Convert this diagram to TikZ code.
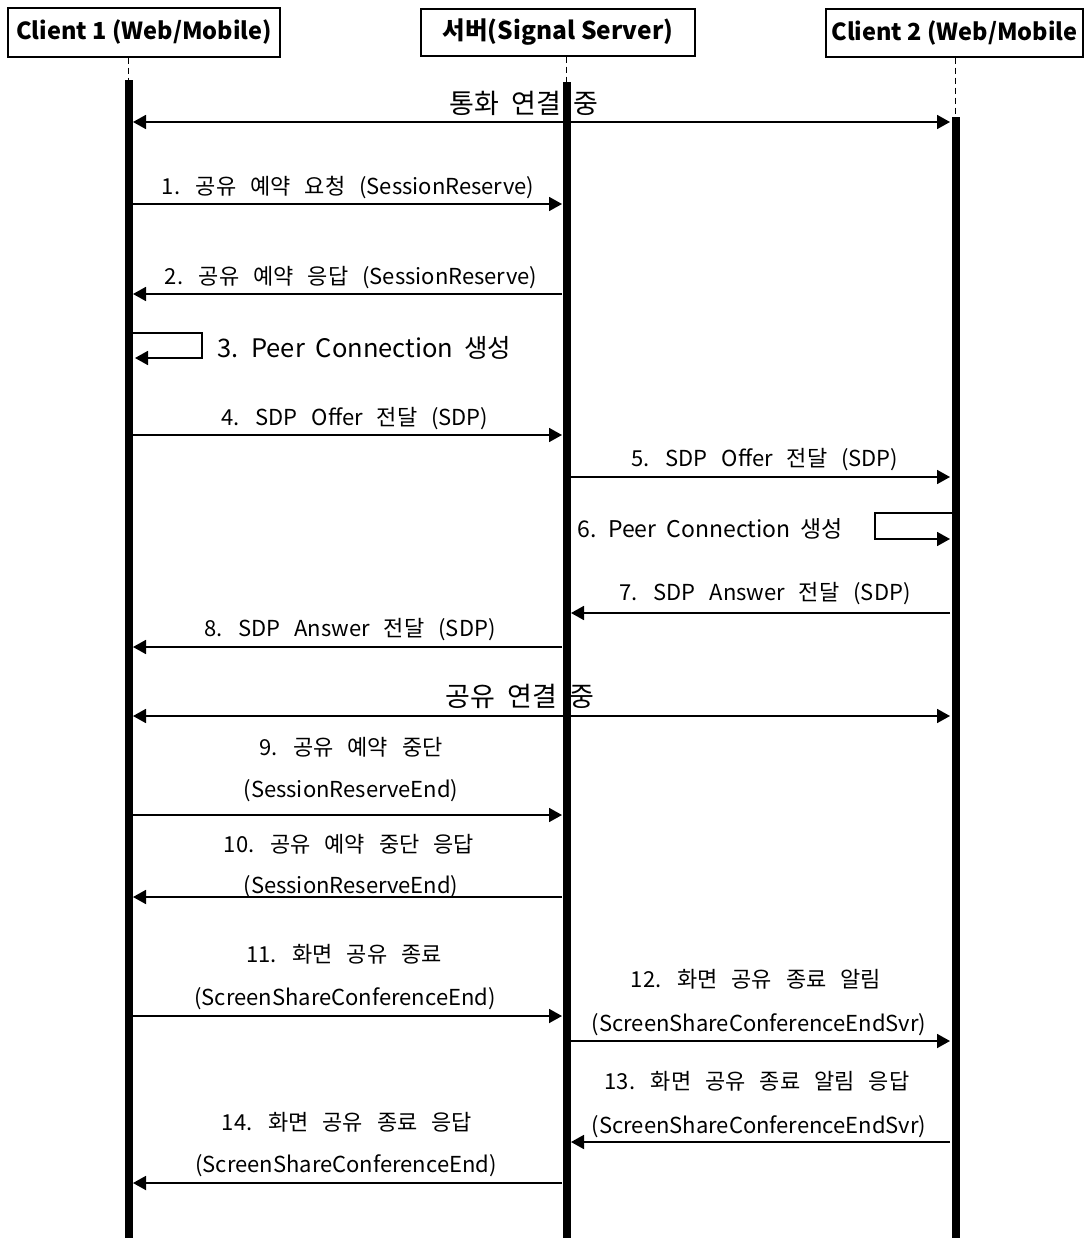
\documentclass[tikz,border=0pt]{standalone}
\usepackage{fontspec}
\setmainfont{Noto Sans CJK KR}
\usetikzlibrary{arrows.meta}
\newcommand\lblfnt{\fontsize{22}{26}\selectfont\spaceskip=14pt plus 2pt minus 1pt\relax}
\newcommand\bigfnt{\fontsize{27}{30}\selectfont\spaceskip=12pt plus 2pt\relax}
\newcommand\peerfnt{\fontsize{25.5}{29}\selectfont\spaceskip=11pt plus 2pt\relax}
\newcommand\peersmfnt{\fontsize{23}{26}\selectfont\spaceskip=10pt plus 2pt\relax}
\begin{document}
\begin{tikzpicture}[x=1pt,y=-1pt,
  hdr/.style={draw,line width=1.5pt,font=\bfseries\fontsize{23.5}{26}\selectfont,inner sep=2pt},
  msg/.style={line width=1.8pt,-{Triangle[length=13pt,width=14pt]}},
  dmsg/.style={line width=1.8pt,{Triangle[length=13pt,width=14pt]}-{Triangle[length=13pt,width=14pt]}},
  lbl/.style={font=\lblfnt,inner sep=0pt,anchor=base},
  big/.style={font=\bigfnt,inner sep=0pt,anchor=base},
  peer/.style={font=\peerfnt,inner sep=0pt},
  bar/.style={fill=black},
  life/.style={line width=1.3pt,dash pattern=on 6pt off 4pt}]
\useasboundingbox (0,0) rectangle (1089,1238);
\fill[white] (0,0) rectangle (1089,1238);
% headers
\node[hdr,minimum width=272pt,minimum height=49pt] (c1) at (144,32.5) {Client 1 (Web/Mobile)};
\node[hdr,minimum width=274pt,minimum height=47pt,font=\bfseries\fontsize{24.5}{27}\selectfont] (srv) at (558,32.5) {서버(Signal Server)};
\node[hdr,minimum width=257pt,minimum height=48pt] (c2) at (954.5,33) {Client 2 (Web/Mobile};
% lifeline tops
\coordinate (c1t) at (128.5,80);
\coordinate (srvt) at (566.5,82);
\coordinate (c2t) at (955.5,117);
\draw[life] (c1.south -| c1t) -- (c1t);
\draw[life] (srv.south -| srvt) -- (srvt);
\draw[life] (c2.south -| c2t) -- (c2t);
% endpoints
\foreach \n/\y in {0/122,1/204,2/294,4/435,8/647,9/716,10/815,11/897,14/1016,17/1183}{
  \coordinate (a\n) at (133,\y);
  \coordinate (b\n) at (562,\y);}
\foreach \n/\y in {5/477,7/613,12/1041,13/1142}{
  \coordinate (s\n) at (571,\y);
  \coordinate (d\n) at (950,\y);}
\coordinate (d0) at (950,122);
\coordinate (d9) at (950,716);
% message 0
\draw[dmsg] (a0) -- (d0);
\node[big] (t0) at (524,114) {통화 연결 중};
% 1
\draw[msg] (a1) -- (b1);
\node[lbl] (t1) at (348,195) {1. 공유 예약 요청 (SessionReserve)};
% 2
\draw[msg] (b2) -- (a2);
\node[lbl] (t2) at (351,284) {2. 공유 예약 응답 (SessionReserve)};
% 3 self loop
\coordinate (l3a) at (133,333);
\coordinate (l3b) at (135,358);
\draw[msg] (l3a) -- ++(69,0) |- (l3b);
\node[peer,anchor=base west] (t3) at (217,357) {3. Peer Connection 생성};
% 4
\draw[msg] (a4) -- (b4);
\node[lbl] (t4) at (355,425) {4. SDP Offer 전달 (SDP)};
% 5
\draw[msg] (s5) -- (d5);
\node[lbl] (t5) at (765,466) {5. SDP Offer 전달 (SDP)};
% 6 self loop
\coordinate (l6a) at (952,513);
\coordinate (l6b) at (950,539);
\draw[msg] (l6a) -- ++(-77,0) |- (l6b);
\node[peer,font=\peersmfnt,anchor=base east] (t6) at (843,537) {6. Peer Connection 생성};
% 7
\draw[msg] (d7) -- (s7);
\node[lbl] (t7) at (765,600) {7. SDP Answer 전달 (SDP)};
% 8
\draw[msg] (b8) -- (a8);
\node[lbl] (t8) at (350,636) {8. SDP Answer 전달 (SDP)};
% 9 shared
\draw[dmsg] (a9) -- (d9);
\node[big] (t9) at (520,706) {공유 연결 중};
% 10
\node[lbl] (t10a) at (351,755) {9. 공유 예약 중단};
\node[lbl] (t10b) at (351,797) {(SessionReserveEnd)};
\draw[msg] (a10) -- (b10);
% 11
\draw[msg] (b11) -- (a11);
\node[lbl] (t11a) at (349,852) {10. 공유 예약 중단 응답};
\node[lbl] (t11b) at (351,893) {(SessionReserveEnd)};
% 14
\node[lbl] (t14a) at (344,962) {11. 화면 공유 종료};
\node[lbl] (t14b) at (345,1005) {(ScreenShareConferenceEnd)};
\draw[msg] (a14) -- (b14);
% 12
\node[lbl] (t12a) at (756,987) {12. 화면 공유 종료 알림};
\node[lbl] (t12b) at (759,1031) {(ScreenShareConferenceEndSvr)};
\draw[msg] (s12) -- (d12);
% 13
\node[lbl] (t13a) at (757,1089) {13. 화면 공유 종료 알림 응답};
\node[lbl] (t13b) at (759,1133) {(ScreenShareConferenceEndSvr)};
\draw[msg] (d13) -- (s13);
% 17
\node[lbl] (t17a) at (347,1130) {14. 화면 공유 종료 응답};
\node[lbl] (t17b) at (346,1172) {(ScreenShareConferenceEnd)};
\draw[msg] (b17) -- (a17);
% activation bars
\fill[bar] (125,80) rectangle (133,1238);
\fill[bar] (562.5,82) rectangle (571,1238);
\fill[bar] (951.5,117) rectangle (959.5,1238);
\end{tikzpicture}
\end{document}
